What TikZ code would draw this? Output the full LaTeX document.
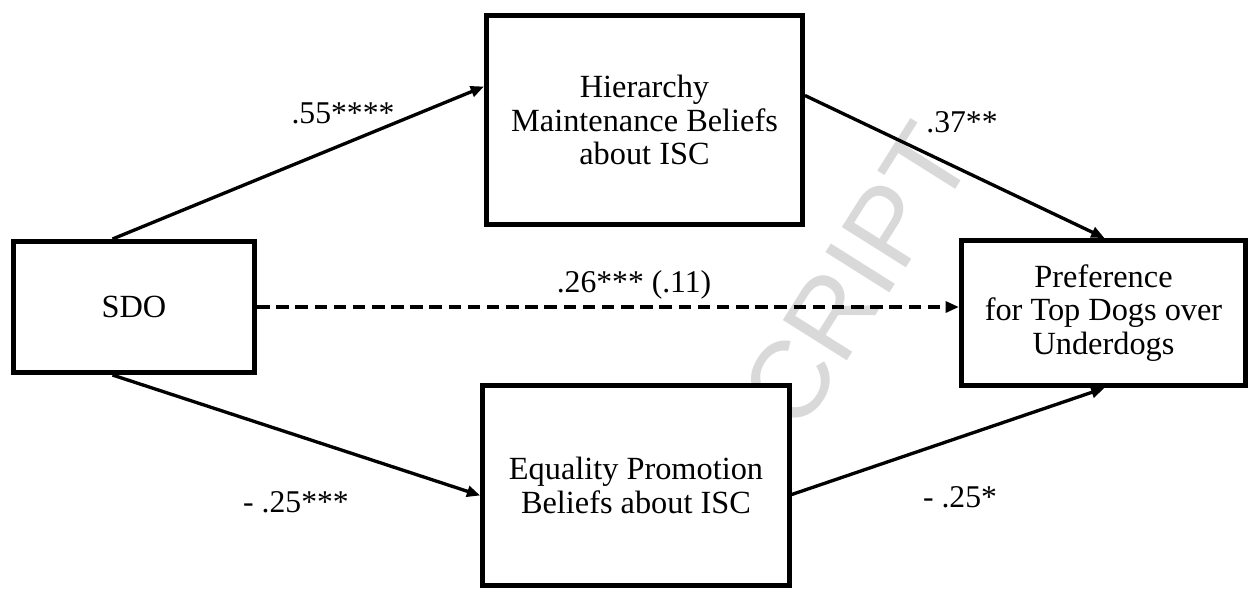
\documentclass[tikz,border=0pt]{standalone}
\usepackage{fontspec}
\setmainfont{Liberation Serif}
\newfontfamily\wmfont{Liberation Sans}
\usetikzlibrary{arrows.meta}
\definecolor{wmgray}{HTML}{D9D9D9}
\begin{document}
\begin{tikzpicture}[x=0.6pt,y=-0.6pt,
  box/.style={draw, line width=3pt, fill=white, align=center, inner sep=0pt,
    font=\fontsize{19.4}{20}\selectfont},
  conn/.style={line width=2pt, -{Triangle[length=8pt,width=6.5pt]}},
  dconn/.style={conn, dash pattern=on 7.5pt off 4pt},
  lbl/.style={font=\fontsize{19}{20}\selectfont, inner sep=0pt, anchor=base},
  wm/.style={font=\wmfont\fontsize{66}{66}\selectfont, text=wmgray, inner sep=0pt, rotate=57.8}]
\useasboundingbox (0,0) rectangle (1250,588);
\node[wm] (water) at (856,276) {CRIPT};
\node[box, minimum width=144.6pt, minimum height=78.6pt] (sdo) at (134,307) {SDO};
\node[box, minimum width=189.6pt, minimum height=125.4pt] (hier) at (644.5,120) {Hierarchy\\Maintenance Beliefs\\about ISC};
\node[box, minimum width=183.9pt, minimum height=120pt] (eq) at (636,485.5) {Equality Promotion\\Beliefs about ISC};
\node[box, minimum width=170.4pt, minimum height=87pt] (pref) at (1103.5,313) {Preference\\for Top Dogs over\\Underdogs};
\draw[conn] ([xshift=60.9pt]sdo.north west) -- ([yshift=-44.1pt]hier.north west);
\draw[conn] ([yshift=-49.5pt]hier.north east) -- ([xshift=87.3pt]pref.north west);
\draw[dconn] (sdo.east) -- (sdo.east -| pref.west);
\draw[conn] ([xshift=60.9pt]sdo.south west) -- ([yshift=-67.5pt]eq.north west);
\draw[conn] ([yshift=-66.9pt]eq.north east) -- ([xshift=87.3pt]pref.south west);
\node[lbl] (l1) at (343,123) {.55****};
\node[lbl] (l2) at (962,132) {.37**};
\node[lbl] (l3) at (634,292) {.26*** (.11)};
\node[lbl] (l4) at (296,512) {- .25***};
\node[lbl] (l5) at (960,507) {- .25*};
\end{tikzpicture}
\end{document}
